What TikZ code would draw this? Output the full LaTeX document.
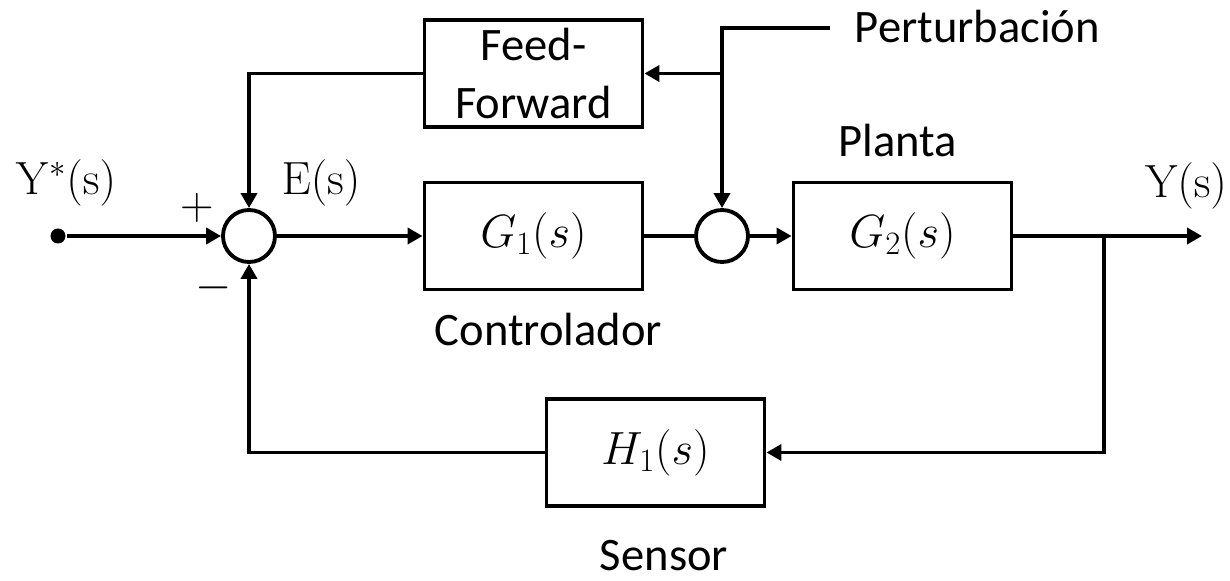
\RequirePackage{fix-cm}
\documentclass[tikz,border=0pt]{standalone}
\usepackage[no-math]{fontspec}
\setmainfont{Carlito}
\usepackage{tikz}
\usetikzlibrary{arrows.meta}
\usetikzlibrary{positioning}

\begin{document}
\begin{tikzpicture}[line width=2.2pt,
                    >={Triangle[length=0.3cm,width=0.32cm]},
                    every node/.style={font=\fontsize{26.5}{33}\selectfont},
                    blk/.style={draw,minimum width=4.36cm,minimum height=2.14cm,align=center,inner sep=0pt},
                    sumc/.style={draw,circle,minimum size=1.04cm,inner sep=0pt}]
                    \useasboundingbox (0,0) rectangle (24.6,11.6);
                    \node[circle,fill,inner sep=0pt,minimum size=0.3cm] (in) at (1.16,6.88) {};
                    \node[sumc] (sum1) at (4.98,6.88) {};
                    \node[blk] (ff) at (10.67,10.13) {Feed-\\Forward};
                    \node[blk] (g1) at (10.67,6.88) {$G_1(s)$};
                    \node[sumc] (sum2) at (14.44,6.88) {};
                    \node[blk] (g2) at (18.05,6.88) {$G_2(s)$};
                    \node[blk] (h1) at (13.11,2.55) {$H_1(s)$};
                    \coordinate (br) at (22.08,6.88);
                    \coordinate (out) at (24.04,6.88);
                    \coordinate (pin) at (16.6,11.04);
                    \node (ystar) at (1.32,7.94) {$\mathrm{Y}^{*}(\mathrm{s})$};
                    \node (err) at (6.42,7.94) {$\mathrm{E}(\mathrm{s})$};
                    \node (yout) at (23.72,7.88) {$\mathrm{Y}(\mathrm{s})$};
                    \node (plus) at (3.94,7.44) {$+$};
                    \node (minus) at (4.28,5.84) {$-$};
                    \node[anchor=base] (planta) at (17.96,8.46) {Planta};
                    \node[anchor=base west,inner sep=0pt] (ctrl) at (8.66,4.7) {Controlador};
                    \node[anchor=base,inner sep=0pt] (sensor) at (13.28,0.2) {Sensor};
                    \node[anchor=base west,inner sep=0pt] (pert) at (17.06,10.74) {Perturbación};
                    \draw[->] (in) -- (sum1);
                    \draw[->] (sum1) -- (g1);
                    \draw (g1) -- (sum2);
                    \draw[->] (sum2) -- (g2);
                    \draw[->] (g2) -- (out);
                    \draw[->] (br) |- (h1);
                    \draw[->] (h1) -| (sum1);
                    \draw[->] (ff) -| (sum1);
                    \draw[->] (pin) -| (sum2);
                    \draw[->] (sum2 |- ff) -- (ff);
                \end{tikzpicture}
\end{document}
